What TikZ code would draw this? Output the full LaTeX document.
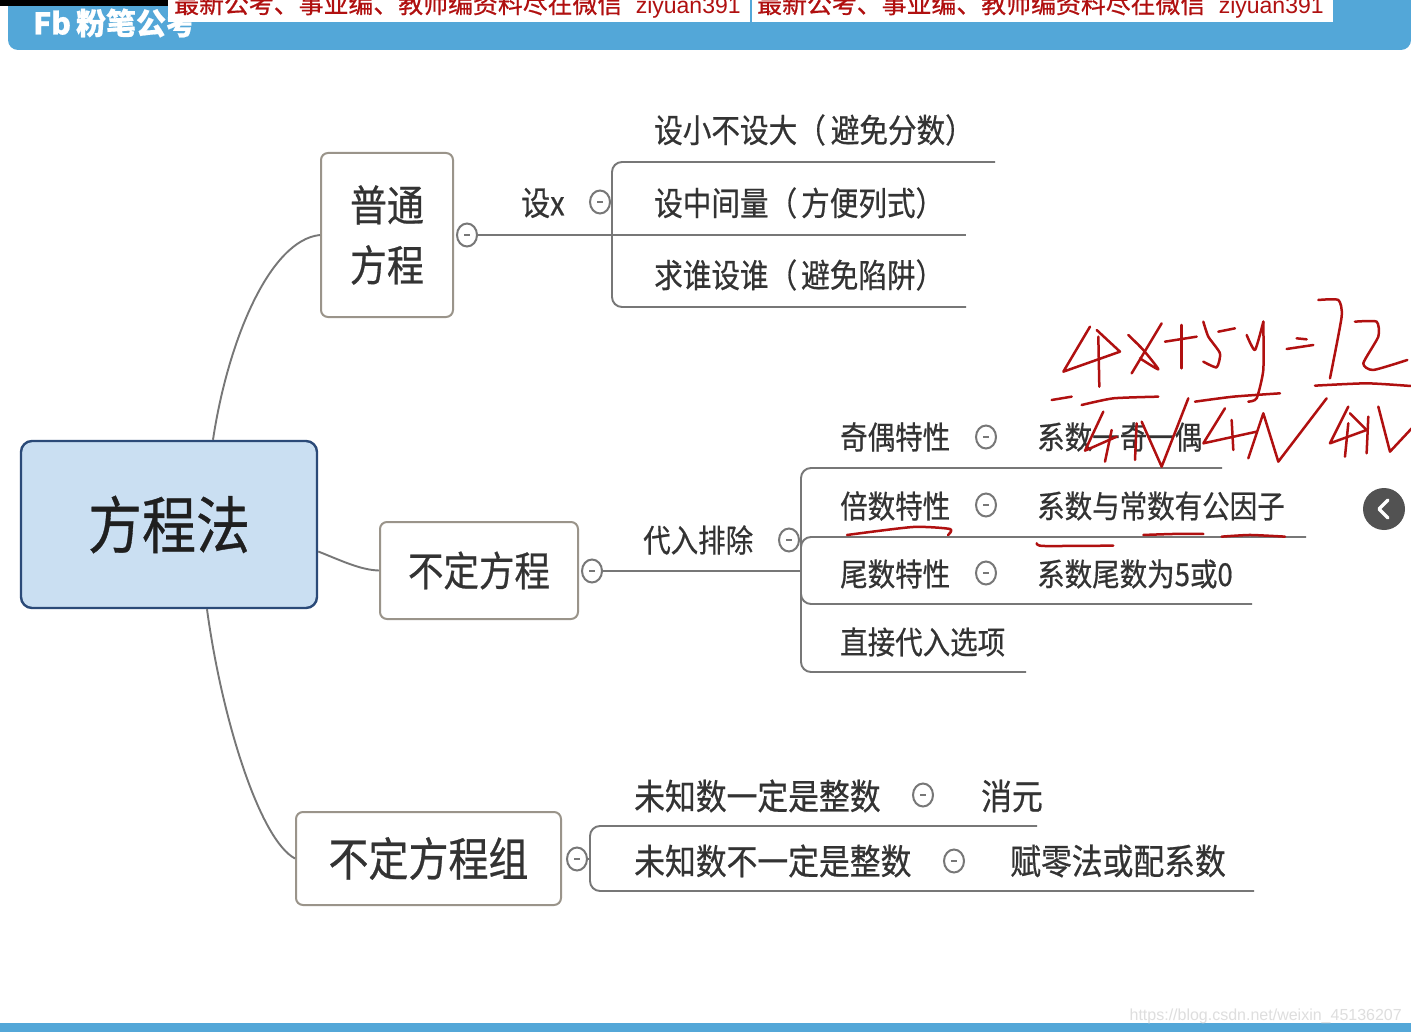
\documentclass[tikz,border=0pt]{standalone}
\usepackage{fontspec}
\usepackage{graphicx}
\setmainfont{Noto Sans CJK SC}[RawFeature={embolden=0.6}]
\newfontfamily\latfont{Liberation Sans}
\usetikzlibrary{calc,shapes.geometric}
\newcommand{\vs}[1]{\scalebox{1}[1.15]{#1}}
\newcommand{\fs}[1]{\fontsize{#1}{#1}\selectfont}
\definecolor{inkgrey}{HTML}{333333}
\definecolor{linegrey}{HTML}{777777}
\definecolor{boxline}{HTML}{9A948A}
\definecolor{barblue}{HTML}{53A7D8}
\definecolor{mainfill}{HTML}{CADFF2}
\definecolor{mainline}{HTML}{2B4A78}
\definecolor{penred}{HTML}{B01010}
\tikzset{
  mainbox/.style={draw=mainline,fill=mainfill,line width=2.4pt,rounded corners=11pt,inner sep=0pt,text=black!88},
  topicbox/.style={draw=boxline,fill=white,line width=2pt,rounded corners=7pt,inner sep=0pt,text=inkgrey,align=center},
  leaf/.style={anchor=west,inner sep=0pt,text=inkgrey,font=\fs{27.5}},
  parenleaf/.style={anchor=west,inner sep=0pt,text=inkgrey,font=\fs{28.6}},
  wideleaf/.style={anchor=west,inner sep=0pt,text=inkgrey,font=\fs{30.8}},
  toggle/.style={draw=linegrey,fill=white,ellipse,line width=2pt,minimum width=20pt,minimum height=23pt,inner sep=0pt,
    path picture={\draw[draw=linegrey,line width=1.2pt] ($(path picture bounding box.center)+(-3,0)$) -- ($(path picture bounding box.center)+(3,0)$);}},
  branch/.style={draw=linegrey,line width=1.9pt},
  curveline/.style={draw=linegrey,line width=1.9pt},
  pen/.style={draw=penred,line width=2.5pt,line cap=round,line join=round},
  notice/.style={inner sep=0pt,text=penred,font=\fs{24.9}}
}
\begin{document}
\begin{tikzpicture}[x=1pt,y=-1pt]
\useasboundingbox (0,0) rectangle (1411,1035);
\clip (0,0) rectangle (1411,1035);
\fill[white] (0,0) rectangle (1411,1035);

% header
\fill[barblue,rounded corners=10pt] (8,-30) rectangle (1411,50);
\fill[black] (0,0) rectangle (168,6);
\node[inner sep=0pt,anchor=west,text=white,font=\bfseries\fs{30}] (logo) at (33,23) {Fb\,粉笔公考};
\fill[white] (168,0) rectangle (750,22);
\fill[white] (752,0) rectangle (1333,22);
\node[notice,anchor=west] (noticea) at (174,5) {最新公考、事业编、教师编资料尽在微信\hspace{7pt}{\latfont\fs{23} ziyuan391}};
\node[notice,anchor=west] (noticeb) at (757,5) {最新公考、事业编、教师编资料尽在微信\hspace{7pt}{\latfont\fs{23} ziyuan391}};

% bottom bar and watermark
\fill[barblue] (0,1023) rectangle (1411,1032);
\node[inner sep=0pt,anchor=east,text=black!13,font=\latfont\fs{16}] (mark) at (1402,1016) {https://blog.csdn.net/weixin\_45136207};

% topic boxes
\node[mainbox,minimum width=296pt,minimum height=167pt,font=\fs{54}] (main) at (169,524.5) {\vs{方程法}};
\node[topicbox,minimum width=132pt,minimum height=164pt,font=\fontsize{37}{60}\selectfont] (pt) at (387,235) {\vs{普通}\\\vs{方程}};
\node[topicbox,minimum width=198pt,minimum height=97pt,font=\fs{35.5}] (bd) at (479,570.5) {\vs{不定方程}};
\node[topicbox,minimum width=265pt,minimum height=93pt,font=\fs{40}] (bdz) at (428.5,858.5) {\vs{不定方程组}};

% curves
\draw[curveline] ($(main.north)+(44,0)$) .. controls (228,340) and (270,240) .. (pt.west);
\draw[curveline] ($(main.east)+(0,27)$) .. controls (340,560) and (360,570) .. (bd.west);
\draw[curveline] ($(main.south)+(38,0)$) .. controls (222,720) and (260,840) .. (bdz.west);

% anchors of the branches
\coordinate (ptT) at (995,162);
\coordinate (ptM) at (966,235);
\coordinate (ptB) at (966,307);
\coordinate (ptJ) at (612,235);
\coordinate (bdA) at (1222,468);
\coordinate (bdB) at (1306,537);
\coordinate (bdC) at (1252,604);
\coordinate (bdD) at (1026,672);
\coordinate (bdJ) at (801,571);
\coordinate (bzT) at (1037,826);
\coordinate (bzB) at (1254,891);
\coordinate (bzJ) at (590,859);

% toggles
\node[toggle] (tpt) at (467,235) {};
\node[toggle] (tx) at (600,202) {};
\node[toggle] (tbd) at (592,571) {};
\node[toggle] (tdr) at (789,540) {};
\node[toggle] (tbz) at (577,859) {};
\node[toggle] (tj) at (986,437) {};
\node[toggle] (tb) at (986,505) {};
\node[toggle] (tw) at (986,573) {};
\node[toggle] (tz) at (923,795) {};
\node[toggle] (tf) at (954,861) {};

% branch lines
\draw[branch] (tpt) -- (ptM);
\draw[branch,rounded corners=10pt] (ptT) -| (ptJ) |- (ptB);
\draw[branch] (tbd) -- (bdJ);
\draw[branch,rounded corners=10pt] (bdA) -| (bdJ) |- (bdD);
\draw[branch,rounded corners=10pt] (bdB) -| (bdJ);
\draw[branch,rounded corners=10pt] (bdC) -| (bdJ);
\draw[branch] (tbz) -- (bzJ);
\draw[branch,rounded corners=10pt] (bzT) -| (bzJ) |- (bzB);

% labels
\node[leaf,font=\fs{29}] (sx) at (521,203) {\vs{设x}};
\node[parenleaf] (a1) at (654,130) {\vs{设小不设大（\hspace{5pt}避免分数）}};
\node[parenleaf] (a2) at (654,203) {\vs{设中间量（\hspace{4pt}方便列式）}};
\node[parenleaf] (a3) at (654,275) {\vs{求谁设谁（\hspace{4pt}避免陷阱）}};
\node[leaf] (dr) at (643,540) {\vs{代入排除}};
\node[leaf] (b1) at (840,437) {\vs{奇偶特性}};
\node[leaf] (b2) at (840,506) {\vs{倍数特性}};
\node[leaf] (b3) at (840,574) {\vs{尾数特性}};
\node[leaf] (b4) at (840,642) {\vs{直接代入选项}};
\node[leaf] (c1) at (1037,437) {\vs{系数一奇一偶}};
\node[leaf] (c2) at (1037,506) {\vs{系数与常数有公因子}};
\node[leaf] (c3) at (1037,574) {\vs{系数尾数为5或0}};
\node[wideleaf] (d1) at (634,796) {\vs{未知数一定是整数}};
\node[wideleaf] (d2) at (634,861) {\vs{未知数不一定是整数}};
\node[wideleaf] (e1) at (981,796) {\vs{消元}};
\node[wideleaf] (e2) at (1010,861) {\vs{赋零法或配系数}};

% scroll button
\node[circle,fill=black!68,minimum size=42pt,inner sep=0pt] (scroll) at (1384,509) {};
\draw[white,line width=3.4pt,line join=round,line cap=round] ($(scroll.center)+(4,-9)$) -- ($(scroll.center)+(-5,0)$) -- ($(scroll.center)+(4,9)$);

% handwriting
\begin{scope}[shift={(1000,280)},x=0.3333pt,y=-0.3333pt]
\def\ink#1{\draw[pen] plot[smooth,tension=.35] coordinates {#1};}
\draw[pen] (270,140) -- (190,275) -- (360,215) -- (290,150);
\draw[pen] (295,170) -- (298,320);
\ink{(385,165)(430,210)(475,268)(420,235)}
\draw[pen] (485,130) -- (395,280);
\draw[pen] (495,185) -- (590,170);
\draw[pen] (545,135) -- (545,265);
\ink{(610,125)(625,170)(660,220)(650,262)(610,245)}
\draw[pen] (655,155) -- (705,145);
\ink{(740,165)(765,210)(790,125)}
\ink{(790,125)(790,270)(770,355)(745,365)}
\draw[pen] (890,175) -- (920,178);
\draw[pen] (860,207) -- (940,195);
\ink{(955,60)(1015,60)(1025,110)(990,295)}
\ink{(1065,125)(1130,125)(1135,170)(1090,250)(1120,270)(1222,240)}
\draw[pen] (155,360) -- (215,350);
\ink{(245,375)(340,355)(475,350)}
\ink{(585,365)(700,350)(840,340)}
\ink{(945,317)(1100,310)(1232,318)}
\draw[pen] (310,395) -- (255,512) -- (350,470);
\draw[pen] (335,450) -- (315,545);
\draw[pen] (410,430) -- (405,540);
\draw[pen] (425,425) -- (485,560) -- (565,355);
\draw[pen] (675,385) -- (610,490) -- (770,455);
\draw[pen] (695,420) -- (700,510);
\draw[pen] (745,535) -- (790,400) -- (835,545) -- (980,355);
\draw[pen] (1045,380) -- (990,490) -- (1100,450) -- (1050,400);
\draw[pen] (1045,430) -- (1035,530);
\draw[pen] (1105,410) -- (1100,520);
\draw[pen] (1135,380) -- (1170,515) -- (1240,440);
\ink{(110,790)(130,798)(340,797)}
\ink{(430,765)(520,762)(610,762)}
\ink{(665,770)(750,765)(855,770)}
\end{scope}
\draw[pen] plot[smooth,tension=.4] coordinates {(847,535)(913,527)(950,529)(948,535)};
\end{tikzpicture}
\end{document}
